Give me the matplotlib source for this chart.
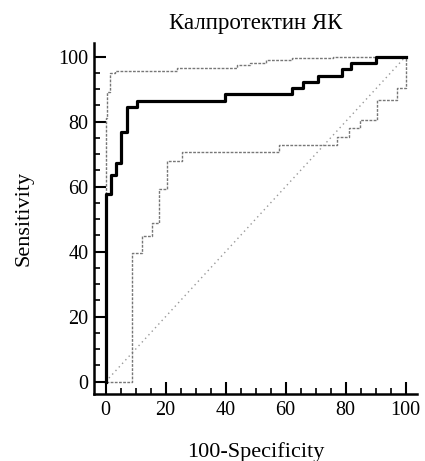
import matplotlib
matplotlib.use('Agg')

import matplotlib.pyplot as plt
from matplotlib.ticker import MultipleLocator

# ROC curve (100-specificity, sensitivity), step points
roc_fpr = [0, 0, 1.7, 3.3, 5.1, 7.0, 10.5, 39.8, 62.0, 65.9, 70.9, 78.9, 81.7, 90.3, 100]
roc_tpr = [0, 57.7, 63.5, 67.3, 76.9, 84.6, 86.5, 88.5, 90.4, 92.3, 94.2, 96.2, 98.1, 100, 100]

# upper confidence bound
up_fpr = [0, 0, 0.5, 1.5, 3.0, 23.7, 43.7, 48.3, 53.4, 62.0, 75.9, 100]
up_tpr = [0, 81.0, 89.0, 95.0, 95.5, 96.6, 97.3, 98.2, 99.0, 99.5, 100, 100]

# lower confidence bound
lo_fpr = [0, 8.7, 12.0, 15.3, 17.9, 20.5, 25.5, 57.8, 77.3, 81.1, 84.8, 90.5, 97.0, 100]
lo_tpr = [0, 39.5, 44.9, 48.7, 59.2, 68.0, 70.6, 72.8, 75.4, 78.0, 80.5, 86.7, 90.3, 100]

ticks = [0, 20, 40, 60, 80, 100]

plt.rcParams['font.family'] = ['Liberation Serif', 'DejaVu Serif']

fig = plt.figure(figsize=(4.25, 4.61), dpi=100)
ax = fig.add_axes([0.221, 0.1453, 0.76, 0.7614])

ax.plot([0, 100], [0, 100], color='#999999', lw=1.0, linestyle=(0, (1, 2.5)))
ax.step(up_fpr, up_tpr, where='post', color='#777777', lw=1.0, linestyle=(0, (2, 1)))
ax.step(lo_fpr, lo_tpr, where='post', color='#777777', lw=1.0, linestyle=(0, (2, 1)))
ax.step(roc_fpr, roc_tpr, where='post', color='black', lw=2.3)

ax.set_xlim(-3.9, 103.8)
ax.set_ylim(-3.8, 104.2)
ax.set_xticks(ticks)
ax.set_yticks(ticks)
ax.xaxis.set_minor_locator(MultipleLocator(5))
ax.yaxis.set_minor_locator(MultipleLocator(5))

for side in ['top', 'right']:
    ax.spines[side].set_visible(False)
for side in ['left', 'bottom']:
    ax.spines[side].set_linewidth(1.8)

ax.tick_params(which='major', direction='in', length=8.6, width=1.5, labelsize=14.5)
ax.tick_params(which='minor', direction='in', length=4.3, width=1.2)
ax.tick_params(axis='x', which='major', pad=5)
ax.tick_params(axis='y', which='major', pad=4)

ax.set_title('Калпротектин ЯК', fontsize=16.5, pad=10)
ax.set_xlabel('100-Specificity', fontsize=16, labelpad=16)
ax.set_ylabel('Sensitivity', fontsize=16, labelpad=18)

fig.savefig('out.png', dpi=100)
